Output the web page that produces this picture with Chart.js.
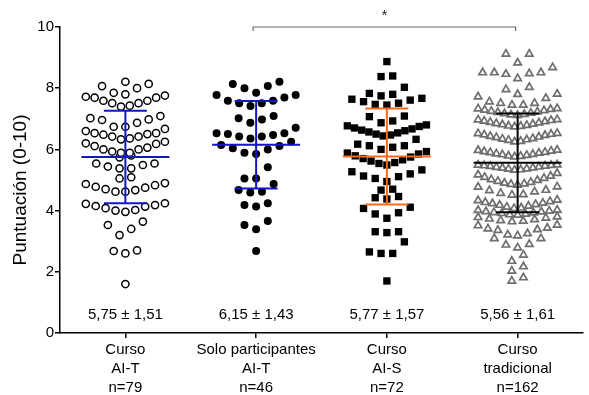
<!DOCTYPE html>
<html><head><meta charset="utf-8">
<script src="https://cdn.jsdelivr.net/npm/chart.js@4/dist/chart.umd.min.js"></script>
<style>html,body{margin:0;padding:0;background:#fff}#wrap{width:589px;height:395px;position:relative}</style>
</head><body><div id="wrap"><canvas id="c" width="589" height="395"></canvas></div>
<script>
// ---- data ----
const categories = [["Curso","AI-T","n=79"],["Solo participantes","AI-T","n=46"],["Curso","AI-S","n=72"],["Curso","tradicional","n=162"]];
const means = [5.75, 6.15, 5.77, 5.56];
const sds = [1.51, 1.43, 1.57, 1.61];
const statLabels = ["5,75 \u00b1 1,51", "6,15 \u00b1 1,43", "5,77 \u00b1 1,57", "5,56 \u00b1 1,61"];
const yTicks = [0, 2, 4, 6, 8, 10];
const yTitle = "Puntuaci\u00f3n (0-10)";
const sigLabel = "*";

// scores, grouped in the rows of the dot plot (bottom to top)
const cursoAIT = [
  [1.60],
  [2.60, 2.68, 2.70],
  [3.20, 3.40, 3.53, 3.64],
  [3.96, 4.00, 4.02, 4.08, 4.13, 4.15, 4.18, 4.22, 4.24],
  [4.62, 4.62, 4.67, 4.70, 4.75, 4.78, 4.83, 4.87, 4.90],
  [5.05, 5.09],
  [5.38, 5.38, 5.44, 5.49, 5.54, 5.54],
  [5.74, 5.80],
  [5.89, 5.89, 5.93, 6.00, 6.00, 6.06, 6.11, 6.18, 6.20, 6.25],
  [6.33, 6.36, 6.42, 6.42, 6.48, 6.50, 6.53, 6.53, 6.60, 6.67],
  [6.74, 6.74, 6.87, 6.96, 6.98, 7.02, 7.09],
  [7.40, 7.43, 7.51, 7.51, 7.59, 7.59, 7.69, 7.69, 7.72, 7.76],
  [7.80, 7.85, 8.00, 8.07, 8.14],
  [8.21]
];
const soloAIT = [
  [2.68],
  [3.39, 3.53, 3.66],
  [4.13, 4.18, 4.24],
  [4.59, 4.62, 4.67, 4.87],
  [5.05, 5.05, 5.42],
  [5.85, 5.89, 6.00, 6.04, 6.11, 6.14, 6.25],
  [6.36, 6.42, 6.42, 6.47, 6.50, 6.53, 6.53, 6.71],
  [6.87, 6.98, 7.02, 7.09],
  [7.42, 7.51, 7.51, 7.59, 7.59, 7.70, 7.78, 7.78],
  [7.85, 8.00, 8.07, 8.14, 8.21]
];
const cursoAIS = [
  [1.70],
  [2.60, 2.60, 2.65, 2.98],
  [3.28, 3.31, 3.31],
  [3.75, 3.89, 3.93, 4.07, 4.11],
  [4.38, 4.42, 4.46],
  [4.67, 4.70],
  [4.95, 5.05, 5.11, 5.13, 5.20, 5.27, 5.33],
  [5.49, 5.54, 5.57, 5.62, 5.66, 5.70, 5.75, 5.79, 5.85, 5.88, 5.93],
  [6.00, 6.07, 6.12, 6.12, 6.17, 6.33],
  [6.44, 6.47, 6.50, 6.54, 6.57, 6.61, 6.63, 6.67, 6.70, 6.75, 6.77, 6.80],
  [6.87, 6.93, 7.07, 7.09],
  [7.45, 7.47, 7.51, 7.56, 7.61, 7.64, 7.67],
  [7.75, 7.80, 7.83, 8.03],
  [8.38, 8.40],
  [8.87]
];
const cursoTradicional = [
  [1.70, 1.81],
  [2.03, 2.17],
  [2.35, 2.55],
  [2.79, 2.88, 2.90, 3.09, 3.09],
  [3.18, 3.21, 3.25, 3.36, 3.38, 3.41, 3.43, 3.51, 3.53],
  [3.64, 3.66, 3.68, 3.71, 3.73, 3.76, 3.78, 3.80],
  [3.86, 3.87, 3.89, 3.91, 3.93, 3.94, 3.96, 3.97, 3.99, 4.01, 4.02],
  [4.07, 4.09, 4.12, 4.15, 4.18, 4.20, 4.23, 4.25, 4.27, 4.30, 4.33, 4.35],
  [4.51, 4.53, 4.57, 4.62, 4.66, 4.67, 4.77, 4.78],
  [4.84, 4.86, 4.88, 4.90, 4.93, 4.96, 4.99, 5.02, 5.06, 5.09, 5.13, 5.17, 5.22],
  [5.33, 5.34, 5.36, 5.37, 5.39, 5.40, 5.42, 5.43, 5.45, 5.46, 5.47, 5.48, 5.49, 5.50],
  [5.76, 5.78, 5.79, 5.81, 5.83, 5.84, 5.86, 5.88, 5.90, 5.91, 5.93, 5.95, 5.97, 5.98],
  [6.25, 6.27, 6.30, 6.32, 6.34, 6.36, 6.39, 6.41, 6.43, 6.46, 6.48, 6.50, 6.52, 6.53],
  [6.74, 6.76, 6.77, 6.79, 6.81, 6.83, 6.85, 6.87, 6.89, 6.91, 6.93, 6.95, 6.97, 6.98],
  [7.12, 7.13, 7.15, 7.17, 7.19, 7.21, 7.23, 7.25, 7.27, 7.29, 7.31, 7.33, 7.34],
  [7.45, 7.45, 7.51, 7.51, 7.56, 7.67, 7.72, 7.81],
  [7.80, 7.96, 8.03],
  [8.32, 8.46, 8.48, 8.51, 8.51, 8.51, 8.68],
  [8.83, 9.12, 9.12]
];

// ---- layout helpers ----
const CHART_LEFT = 60, CHART_W = 529;
const PX_PER_UNIT = CHART_W / 4;
const SLOT_PX = 11.8, SPAN_PX = 80;

function swarm(rows, g) {
  const pts = [];
  rows.forEach(row => {
    const vals = row.slice().sort((a, b) => a - b);
    const n = vals.length;
    const sp = n > 1 ? Math.min(SLOT_PX, SPAN_PX / (n - 1)) : 0;
    vals.forEach((v, k) => {
      let slot;
      if (n % 2) slot = k === 0 ? 0 : (k % 2 ? -Math.ceil(k / 2) : Math.ceil(k / 2));
      else slot = (k % 2 ? 1 : -1) * (Math.floor(k / 2) + 0.5);
      pts.push({ x: g + slot * sp / PX_PER_UNIT, y: v });
    });
  });
  return pts;
}

const FONT = "'Liberation Sans', Arial, Helvetica, sans-serif";
const barColors = ['#1515c8', '#1515c8', '#f76a1c', '#000000'];

const overlay = {
  id: 'overlay',
  afterDatasetsDraw(chart) {
    const { ctx, scales: { x, y } } = chart;
    ctx.save();
    means.forEach((m, i) => {
      const cx = x.getPixelForValue(i + 1);
      const ym = y.getPixelForValue(m);
      const yt = y.getPixelForValue(m + sds[i]);
      const yb = y.getPixelForValue(m - sds[i]);
      ctx.strokeStyle = barColors[i];
      ctx.lineWidth = 2;
      ctx.beginPath();
      ctx.moveTo(cx - 44, ym); ctx.lineTo(cx + 44, ym);
      ctx.moveTo(cx, yt); ctx.lineTo(cx, yb);
      ctx.moveTo(cx - 21.5, yt); ctx.lineTo(cx + 21.5, yt);
      ctx.moveTo(cx - 21.5, yb); ctx.lineTo(cx + 21.5, yb);
      ctx.stroke();
    });
    ctx.restore();
  },
  afterDraw(chart) {
    const { ctx, scales: { x, y } } = chart;
    ctx.save();
    ctx.fillStyle = '#000';
    ctx.font = '15px ' + FONT;
    ctx.textAlign = 'center';
    ctx.textBaseline = 'middle';
    statLabels.forEach((t, i) => {
      ctx.fillText(t, x.getPixelForValue(i + 1), y.getPixelForValue(0) - 18);
    });
    // significance bracket between group 2 and group 4
    const yTop = y.getPixelForValue(10);
    const x1 = x.getPixelForValue(2) - 3, x2 = x.getPixelForValue(4) - 2;
    ctx.strokeStyle = '#666';
    ctx.lineWidth = 1.2;
    ctx.beginPath();
    ctx.moveTo(x1, yTop + 4); ctx.lineTo(x1, yTop); ctx.lineTo(x2, yTop); ctx.lineTo(x2, yTop + 4);
    ctx.stroke();
    ctx.font = '14px ' + FONT;
    ctx.textBaseline = 'alphabetic';
    ctx.fillStyle = '#222';
    ctx.fillText(sigLabel, (x1 + x2) / 2, yTop - 7);
    // y axis title
    ctx.translate(21, 190);
    ctx.rotate(-Math.PI / 2);
    ctx.fillStyle = '#000';
    ctx.font = '19px ' + FONT;
    ctx.textBaseline = 'middle';
    ctx.fillText(yTitle, 0, 0);
    ctx.restore();
  }
};

new Chart(document.getElementById('c'), {
  type: 'scatter',
  data: {
    datasets: [
      { data: swarm(cursoAIT, 1), pointStyle: 'circle', pointRadius: 3.6, borderWidth: 1.5, borderColor: '#000', backgroundColor: '#fff' },
      { data: swarm(soloAIT, 2), pointStyle: 'circle', pointRadius: 4, borderWidth: 0, borderColor: '#000', backgroundColor: '#000' },
      { data: swarm(cursoAIS, 3), pointStyle: 'rect', pointRadius: 5.2, borderWidth: 0, borderColor: '#000', backgroundColor: '#000' },
      { data: swarm(cursoTradicional, 4), pointStyle: 'triangle', pointRadius: 4.3, borderWidth: 1.7, borderColor: '#6e6e6e', backgroundColor: 'rgba(0,0,0,0)' }
    ]
  },
  options: {
    responsive: false,
    animation: false,
    devicePixelRatio: 1,
    layout: { padding: { top: 27, right: 0, left: 0, bottom: 0 } },
    plugins: { legend: { display: false }, tooltip: { enabled: false } },
    scales: {
      x: {
        type: 'linear', min: 0.5, max: 4.5,
        afterBuildTicks: s => { s.ticks = [1, 2, 3, 4].map(v => ({ value: v })); },
        afterFit: s => { s.height = 62; },
        ticks: {
          autoSkip: false, maxRotation: 0, minRotation: 0, padding: 2.5,
          color: '#000', font: { family: FONT, size: 15, lineHeight: 1.27 },
          callback: v => categories[Math.round(v) - 1]
        },
        grid: { display: true, drawOnChartArea: false, drawTicks: true, tickLength: 5, color: '#000', lineWidth: 1.5 },
        border: { display: true, color: '#000', width: 1.5 }
      },
      y: {
        min: 0, max: 10,
        afterBuildTicks: s => { s.ticks = yTicks.map(v => ({ value: v })); },
        afterFit: s => { s.width = 60; },
        ticks: { color: '#000', padding: 1, font: { family: FONT, size: 15 } },
        grid: { display: true, drawOnChartArea: false, drawTicks: true, tickLength: 5, color: '#000', lineWidth: 1.5 },
        border: { display: true, color: '#000', width: 1.5 }
      }
    }
  },
  plugins: [overlay]
});
</script></body></html>
